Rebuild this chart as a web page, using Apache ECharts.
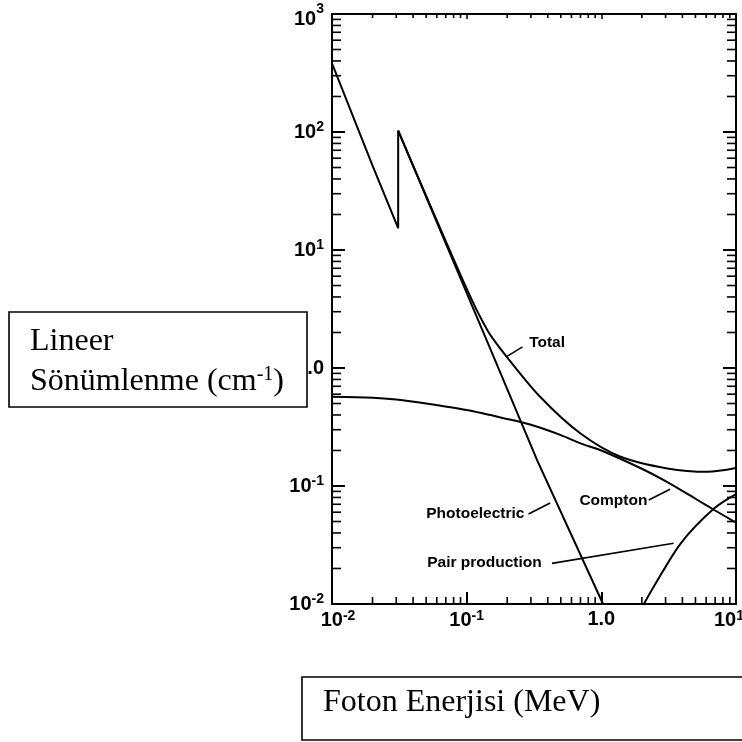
<!DOCTYPE html>
<html><head><meta charset="utf-8">
<script src="https://cdn.jsdelivr.net/npm/echarts@6/dist/echarts.min.js"></script>
<style>html,body{margin:0;padding:0;background:#fff}#c{width:742px;height:742px}</style>
</head><body><div id="c"></div>
<script>
// ---- data (log-log, NaI-like attenuation) ----
const totalLowX = [0.01, 0.02, 0.031, 0.031];
const totalLowY = [382, 52, 15.3, 102.6];
const totalX = [0.031, 0.1, 0.144, 0.198, 0.351, 0.697, 1.39, 3.09, 6.15, 10];
const totalY = [102.6, 4.7, 2.05, 1.25, 0.571, 0.280, 0.177, 0.141, 0.132, 0.142];
const photoX = [0.031, 0.144, 0.334, 1.03];
const photoY = [102.6, 1.62, 0.165, 0.01];
const comptonX = [0.01, 0.02, 0.03, 0.05, 0.1, 0.2, 0.3, 0.5, 0.7, 1, 2, 3, 5, 7, 10];
const comptonY = [0.57, 0.56, 0.54, 0.50, 0.44, 0.37, 0.33, 0.27, 0.23, 0.20, 0.14, 0.11, 0.078, 0.062, 0.049];
const pairX = [2.07, 2.45, 3.89, 6.89, 10];
const pairY = [0.01, 0.014, 0.0327, 0.0647, 0.0855];

// tick labels: [base, superscript, style variant]
const xTickLabels = {'-2': ['10', '-2', 'L'], '-1': ['10', '-1', ''], '0': ['1.0', '', ''], '1': ['10', '1', 'R']};
const yTickLabels = {'-2': ['10', '-2', ''], '-1': ['10', '-1', ''], '0': ['1.0', '', ''], '1': ['10', '1', ''], '2': ['10', '2', ''], '3': ['10', '3', 'T']};
const minorMult = [2, 3, 4, 5, 6, 7, 8, 9];
const xDecades = [0.01, 0.1, 1];
const yDecades = [0.01, 0.1, 1, 10, 100];
const xMin = 0.01, xMax = 10, yMin = 0.01, yMax = 1000;

const annotations = [
  {text: 'Total', at: [0.291, 1.63], lead: [[0.26, 1.51], [0.198, 1.25]]},
  {text: 'Compton', at: [0.687, 0.0753], lead: [[2.25, 0.076], [3.24, 0.0938]]},
  {text: 'Photoelectric', at: [0.0501, 0.0587], lead: [[0.288, 0.058], [0.417, 0.0718]]},
  {text: 'Pair production', at: [0.0509, 0.0222], lead: [[0.43, 0.0221], [3.44, 0.0327]]}
];

const zip = (xs, ys) => xs.map((x, i) => [x, ys[i]]);
const FONT = '"Liberation Sans", Arial, sans-serif';
const baseS = {fontFamily: FONT, fontWeight: 'bold', fontSize: 20, color: '#000'};
const supS = {fontFamily: FONT, fontWeight: 'bold', fontSize: 14, color: '#000', padding: [0, 0, 9, 0]};
const rich = {
  b: baseS, s: supS,
  bL: Object.assign({}, baseS, {padding: [0, 0, 0, 12]}), sL: supS,
  bR: baseS, sR: Object.assign({}, supS, {padding: [0, 14, 9, 0]}),
  bT: Object.assign({}, baseS, {padding: [10, 0, 0, 0]}), sT: supS
};
function fmt(table) {
  return v => {
    const e = String(Math.round(Math.log10(v)));
    const t = table[e];
    if (!t) return '';
    const k = t[2];
    return t[1] ? '{b' + k + '|' + t[0] + '}{s' + k + '|' + t[1] + '}' : '{b|' + t[0] + '}';
  };
}
const lineCommon = {type: 'line', showSymbol: false, symbol: 'none', silent: true, z: 4};
const black = {color: '#000', width: 2};

const chart = echarts.init(document.getElementById('c'), null, {renderer: 'canvas'});
chart.setOption({
  animation: false,
  backgroundColor: '#fff',
  grid: {left: 332, right: 6, top: 14, bottom: 138, show: false, containLabel: false, outerBoundsMode: 'none'},
  xAxis: [
    {type: 'log', logBase: 10, min: xMin, max: xMax, position: 'bottom',
     axisLine: {show: true, onZero: false, lineStyle: {color: '#000', width: 2}},
     axisTick: {show: true, inside: true, length: 12, lineStyle: {color: '#000', width: 2}},
     splitLine: {show: false},
     axisLabel: {margin: 5, formatter: fmt(xTickLabels), rich: rich, hideOverlap: false}},
    {type: 'log', logBase: 10, min: xMin, max: xMax, position: 'top',
     axisLine: {show: true, onZero: false, lineStyle: {color: '#000', width: 2}},
     axisTick: {show: true, inside: true, length: 5, lineStyle: {color: '#000', width: 1.5}},
     splitLine: {show: false}, axisLabel: {show: false}}
  ],
  yAxis: [
    {type: 'log', logBase: 10, min: yMin, max: yMax, position: 'left',
     axisLine: {show: true, onZero: false, lineStyle: {color: '#000', width: 2}},
     axisTick: {show: true, inside: true, length: 13, lineStyle: {color: '#000', width: 2}},
     splitLine: {show: false},
     axisLabel: {margin: 8, formatter: fmt(yTickLabels), rich: rich}},
    {type: 'log', logBase: 10, min: yMin, max: yMax, position: 'right',
     axisLine: {show: true, onZero: false, lineStyle: {color: '#000', width: 2}},
     axisTick: {show: true, inside: true, length: 13, lineStyle: {color: '#000', width: 2}},
     splitLine: {show: false}, axisLabel: {show: false}}
  ],
  series: [
    Object.assign({}, lineCommon, {name: 'Total', data: zip(totalLowX, totalLowY), lineStyle: black}),
    Object.assign({}, lineCommon, {name: 'Total', data: zip(totalX, totalY), smooth: 0.3, lineStyle: black}),
    Object.assign({}, lineCommon, {name: 'Photoelectric', data: zip(photoX, photoY), lineStyle: black}),
    Object.assign({}, lineCommon, {name: 'Compton', data: zip(comptonX, comptonY), smooth: 0.3, lineStyle: black}),
    Object.assign({}, lineCommon, {name: 'Pair production', data: zip(pairX, pairY), smooth: 0.3, lineStyle: black}),
    {type: 'custom', silent: true, z: 5, data: [[1, 1]],
     renderItem: function (params, api) {
       const children = [];
       const tr = api.coord([xMax, yMax]);
       const bl = api.coord([xMin, yMin]);
       const st = {stroke: '#000', lineWidth: 1.6};
       yDecades.forEach(d => minorMult.forEach(m => {
         const p = api.coord([xMin, d * m]);
         children.push({type: 'line', shape: {x1: bl[0], y1: p[1], x2: bl[0] + 9, y2: p[1]}, style: st});
         children.push({type: 'line', shape: {x1: tr[0], y1: p[1], x2: tr[0] - 9, y2: p[1]}, style: st});
       }));
       xDecades.forEach(d => minorMult.forEach(m => {
         const p = api.coord([d * m, yMin]);
         children.push({type: 'line', shape: {x1: p[0], y1: bl[1], x2: p[0], y2: bl[1] - 7}, style: st});
         children.push({type: 'line', shape: {x1: p[0], y1: tr[1], x2: p[0], y2: tr[1] + 4}, style: st});
       }));
       return {type: 'group', children: children};
     }}
  ]
});

const px = v => chart.convertToPixel({gridIndex: 0}, v);
const g = [];
annotations.forEach(a => {
  const p = px(a.at);
  g.push({type: 'text', x: p[0], y: p[1], z: 20,
    style: {text: a.text, font: 'bold 15.5px ' + FONT, fill: '#000', verticalAlign: 'middle', align: 'left'}});
  const p1 = px(a.lead[0]), p2 = px(a.lead[1]);
  g.push({type: 'line', z: 20, shape: {x1: p1[0], y1: p1[1], x2: p2[0], y2: p2[1]},
    style: {stroke: '#000', lineWidth: 1.6}});
});
// axis-title boxes
const SERIF = '"Liberation Serif", "Times New Roman", serif';
g.push({type: 'rect', z: 30, shape: {x: 9, y: 312, width: 298, height: 95},
  style: {fill: '#fff', stroke: '#000', lineWidth: 1.6}});
g.push({type: 'text', z: 31, x: 30, y: 342,
  style: {text: 'Lineer', font: '32px ' + SERIF, fill: '#000', verticalAlign: 'middle'}});
g.push({type: 'text', z: 31, x: 30, y: 382,
  style: {text: '{n|Sönümlenme (cm}{s|-1}{n|)}', verticalAlign: 'middle',
    rich: {n: {fontFamily: SERIF, fontSize: 32, fill: '#000', color: '#000'},
           s: {fontFamily: SERIF, fontSize: 20, fill: '#000', color: '#000', padding: [0, 0, 15, 0]}}}});
g.push({type: 'rect', z: 30, shape: {x: 302, y: 677, width: 460, height: 63},
  style: {fill: '#fff', stroke: '#000', lineWidth: 1.6}});
g.push({type: 'text', z: 31, x: 323, y: 703,
  style: {text: 'Foton Enerjisi (MeV)', font: '32px ' + SERIF, fill: '#000', verticalAlign: 'middle'}});
chart.setOption({graphic: g});
</script>
</body></html>
